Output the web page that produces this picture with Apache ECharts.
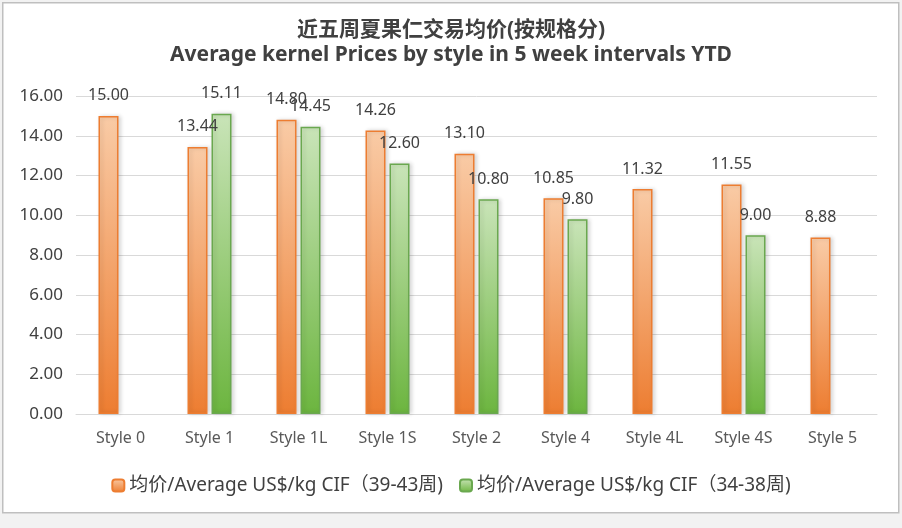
<!DOCTYPE html>
<html><head><meta charset="utf-8">
<script src="https://cdn.jsdelivr.net/npm/echarts@6/dist/echarts.min.js"></script>
<style>html,body{margin:0;padding:0;background:#f2f2f2;}#c{width:902px;height:528px;}</style>
</head><body><div id="c"></div>
<script>
var categories = ['Style 0','Style 1','Style 1L','Style 1S','Style 2','Style 4','Style 4L','Style 4S','Style 5'];
var seriesNames = ['均价/Average US$/kg CIF（39-43周)', '均价/Average US$/kg CIF（34-38周)'];
var recent = [15.00, 13.44, 14.80, 14.26, 13.10, 10.85, 11.32, 11.55, 8.88];
var earlier = [null, 15.11, 14.45, 12.60, 10.80, 9.80, null, 9.00, null];
var titleLines = ['近五周夏果仁交易均价(按规格分)', 'Average kernel Prices by style in 5 week intervals YTD'];

var chart = echarts.init(document.getElementById('c'), null, {renderer:'canvas'});
var font = '"Noto Sans","Noto Sans CJK SC",sans-serif';
function grad(top, bottom){
  return new echarts.graphic.LinearGradient(0,0,0,1,[{offset:0,color:top},{offset:1,color:bottom}]);
}
var labelCfg = {show:true, position:'top', distance:12, color:'#404040', fontSize:16, fontFamily:font,
  formatter:function(p){return p.value==null?'':p.value.toFixed(2);}};
chart.setOption({
  backgroundColor:'#f2f2f2',
  graphic:[{type:'rect', left:2, top:2, shape:{width:896,height:510}, style:{fill:'#ffffff', stroke:'#bfbfbf', lineWidth:1.5}, z:-10}],
  title:{
    text: titleLines[0] + '\n' + titleLines[1],
    left:'center', top:13,
    textStyle:{fontSize:21, fontWeight:'bold', color:'#404040', fontFamily:font, lineHeight:25}
  },
  legend:{
    top:471, left:'center', itemWidth:12, itemHeight:12, itemGap:16,
    textStyle:{fontSize:19, color:'#404040', fontFamily:font},
    data:seriesNames
  },
  grid:{left:76, right:25, top:96, bottom:114},
  xAxis:{
    type:'category', data:categories,
    axisLine:{lineStyle:{color:'#d9d9d9', width:1}},
    axisTick:{show:false},
    axisLabel:{color:'#595959', fontSize:16, fontFamily:font, margin:16}
  },
  yAxis:{
    type:'value', min:0, max:16, interval:2,
    axisLine:{show:false}, axisTick:{show:false},
    splitLine:{lineStyle:{color:'#d9d9d9', width:1}},
    axisLabel:{color:'#404040', fontSize:17, fontFamily:font, margin:13,
      formatter:function(v){return v.toFixed(2);}}
  },
  series:[
    {name:seriesNames[0], type:'bar', data:recent, barWidth:20, barGap:'20%',
      itemStyle:{color:grad('#f9cba6','#ed7d31'), borderColor:'#ed7d31', borderWidth:1.5, shadowColor:'rgba(0,0,0,0.15)', shadowBlur:4, shadowOffsetX:2},
      label:labelCfg},
    {name:seriesNames[1], type:'bar', data:earlier, barWidth:20,
      itemStyle:{color:grad('#c9e4b8','#6cb53f'), borderColor:'#6aa84f', borderWidth:1.5, shadowColor:'rgba(0,0,0,0.15)', shadowBlur:4, shadowOffsetX:2},
      label:labelCfg}
  ]
});
</script></body></html>
